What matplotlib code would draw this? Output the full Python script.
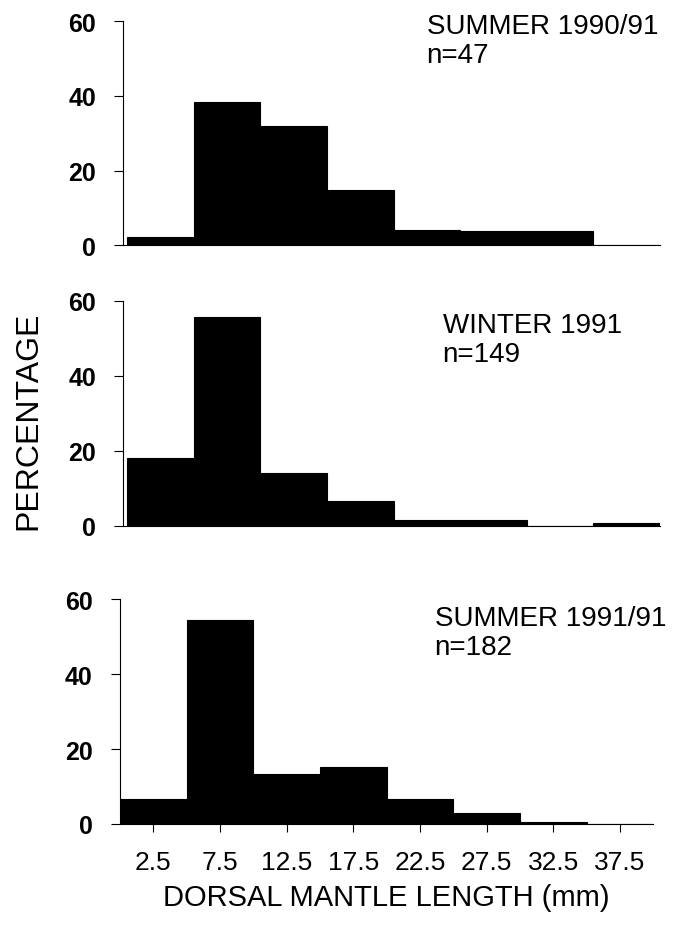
import matplotlib
matplotlib.use("Agg")
import matplotlib.pyplot as plt
import numpy as np

plt.rcParams['font.family'] = ['Liberation Sans', 'DejaVu Sans']

bin_left = [0, 5, 10, 15, 20, 25, 30, 35]
tick_pos = [2.5, 7.5, 12.5, 17.5, 22.5, 27.5, 32.5, 37.5]
tick_labels = ["2.5", "7.5", "12.5", "17.5", "22.5", "27.5", "32.5", "37.5"]

summer_1990 = [2.1, 38.3, 31.9, 14.9, 4.0, 3.9, 3.7, 0.0]
winter_1991 = [18.1, 55.7, 14.1, 6.7, 1.5, 1.4, 0.0, 0.7]
summer_1991 = [6.6, 54.4, 13.2, 15.3, 6.6, 2.8, 0.5, 0.0]

labels = ["SUMMER 1990/91\nn=47", "WINTER 1991\nn=149", "SUMMER 1991/91\nn=182"]
series = [summer_1990, winter_1991, summer_1991]

fig = plt.figure(figsize=(6.77, 9.29), dpi=100)
boxes = [(0.182, 0.735, 0.793, 0.241),
         (0.182, 0.433, 0.793, 0.242),
         (0.177, 0.112, 0.788, 0.242)]
xlims = [(-0.3, 40), (-0.3, 40), (0, 40)]
text_pos = [(0.565, 1.035), (0.595, 0.95), (0.59, 0.975)]

for i, (box, vals, lab, tp, xl) in enumerate(zip(boxes, series, labels, text_pos, xlims)):
    ax = fig.add_axes(box)
    ax.bar(bin_left, vals, width=5, align='edge', color='black', edgecolor='black', linewidth=0.8)
    ax.set_xlim(*xl)
    ax.set_ylim(0, 60)
    ax.set_yticks([0, 20, 40, 60])
    ax.tick_params(axis='y', labelsize=18, length=6.5, width=0.8, pad=13)
    for t in ax.get_yticklabels():
        t.set_fontweight('bold')
    for s in ['top', 'right']:
        ax.spines[s].set_visible(False)
    ax.spines['left'].set_linewidth(0.8)
    ax.spines['bottom'].set_linewidth(0.8)
    ax.text(tp[0], tp[1], lab, transform=ax.transAxes, ha='left', va='top',
            fontsize=20, linespacing=1.15)
    if i < 2:
        ax.set_xticks([])
    else:
        ax.set_xticks(tick_pos)
        ax.set_xticklabels(tick_labels)
        ax.tick_params(axis='x', labelsize=19, length=5.5, width=0.8, pad=13)
        ax.set_xlabel("DORSAL MANTLE LENGTH (mm)", fontsize=21, labelpad=7)

fig.text(0.042, 0.547, "PERCENTAGE", rotation=90, ha='center', va='center', fontsize=23)

fig.savefig("out.png", dpi=100)
